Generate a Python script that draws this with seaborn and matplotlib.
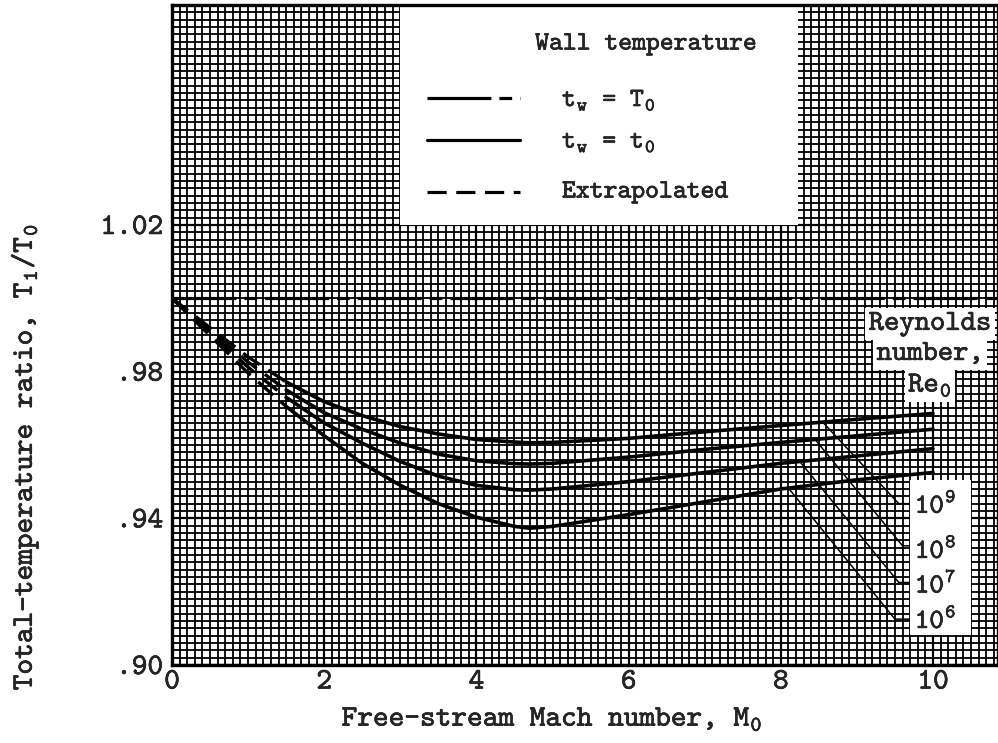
import matplotlib
matplotlib.use("Agg")
import numpy as np
import pandas as pd
import matplotlib.pyplot as plt
import matplotlib.patheffects as pe
import seaborn as sns
from matplotlib.lines import Line2D
from matplotlib.patches import Rectangle
from matplotlib.text import Text
from matplotlib.ticker import MultipleLocator, FixedLocator, FixedFormatter

# ---------------- data ----------------
mach = [0.0, 0.5, 1.0, 1.5, 2.0, 2.5, 3.0, 3.5, 4.0, 4.5, 4.7, 5.0, 6.0, 7.0, 8.0, 9.0, 10.0]
ratio_re1e9 = [1.000, 0.9920, 0.9840, 0.9772, 0.9718, 0.9680, 0.9650, 0.9630, 0.9615, 0.9608, 0.9606,
               0.9607, 0.9618, 0.9636, 0.9653, 0.9670, 0.9686]
ratio_re1e8 = [1.000, 0.9913, 0.9826, 0.9750, 0.9688, 0.9643, 0.9605, 0.9575, 0.9557, 0.9549, 0.9548,
               0.9550, 0.9567, 0.9588, 0.9607, 0.9625, 0.9643]
ratio_re1e7 = [1.000, 0.9906, 0.9812, 0.9730, 0.9660, 0.9605, 0.9555, 0.9515, 0.9490, 0.9478, 0.9477,
               0.9480, 0.9500, 0.9525, 0.9550, 0.9570, 0.9590]
ratio_re1e6 = [1.000, 0.9898, 0.9796, 0.9705, 0.9625, 0.9550, 0.9490, 0.9440, 0.9403, 0.9378, 0.9373,
               0.9378, 0.9410, 0.9445, 0.9480, 0.9505, 0.9525]
reynolds_labels = ["10$^\\mathregular{9}$", "10$^\\mathregular{8}$",
                   "10$^\\mathregular{7}$", "10$^\\mathregular{6}$"]
wall_mach = [0.0, 10.86]          # t_w = T_0 : ratio stays 1
wall_ratio = [1.0, 1.0]
extrapolated_to = 1.5             # curves are extrapolated below this Mach number

x_ticks = [0, 2, 4, 6, 8, 10]
x_tick_labels = ["0", "2", "4", "6", "8", "10"]
y_ticks = [0.90, 0.94, 0.98, 1.02]
y_tick_labels = [".90", ".94", ".98", "1.02"]

# ---------------- tidy frames ----------------
series = {"1e9": ratio_re1e9, "1e8": ratio_re1e8, "1e7": ratio_re1e7, "1e6": ratio_re1e6}
df = pd.concat([pd.DataFrame({"mach": mach, "ratio": v, "re": k}) for k, v in series.items()],
               ignore_index=True)
df_meas = df[df["mach"] >= extrapolated_to]
df_extr = df[df["mach"] <= extrapolated_to]
df_wall = pd.DataFrame({"mach": wall_mach, "ratio": wall_ratio})

# ---------------- style ----------------
sns.set_theme(style="white")
plt.rcParams["font.family"] = ["cmtt10", "DejaVu Sans Mono"]
plt.rcParams["axes.unicode_minus"] = False
plt.rcParams["mathtext.fontset"] = "cm"

W, H = 998, 743
fig = plt.figure(figsize=(W / 100, H / 100), dpi=100, facecolor="white")
ax = fig.add_axes([172 / W, 78 / H, 826 / W, 660 / H])
ax.set_facecolor("white")

ax.set_xlim(0, 826 / 76.1)
ax.set_ylim(0.90, 0.90 + 660 / 3667.0)

# grid
ax.set_axisbelow(True)
ax.xaxis.set_major_locator(FixedLocator(x_ticks))
ax.xaxis.set_major_formatter(FixedFormatter(x_tick_labels))
ax.yaxis.set_major_locator(FixedLocator(y_ticks))
ax.yaxis.set_major_formatter(FixedFormatter(y_tick_labels))
ax.xaxis.set_minor_locator(MultipleLocator(0.1))
ax.yaxis.set_minor_locator(MultipleLocator(0.002))
ax.grid(which="major", color="black", lw=1.6)
ax.grid(which="minor", color="black", lw=1.3)
ax.tick_params(which="both", length=0)
ax.tick_params(axis="x", pad=4, labelsize=21.5)
ax.tick_params(axis="y", pad=6.5, labelsize=21.5)
for s in ax.spines.values():
    s.set_color("black")
    s.set_linewidth(2.4)

# white legend region
ax.add_patch(Rectangle((0.276, 0.667), 0.482, 0.34, transform=ax.transAxes,
                       facecolor="white", edgecolor="none", zorder=2, clip_on=False))

# curves
dash_ext = (0, (6, 3))
wall_dash = (0, (20, 2.5, 4, 2.5))
sns.lineplot(data=df_wall, x="mach", y="ratio", color="black", lw=2.3, ax=ax,
             linestyle=wall_dash, zorder=3, legend=False)
sns.lineplot(data=df_meas, x="mach", y="ratio", units="re", estimator=None,
             color="black", lw=2.6, ax=ax, zorder=3, legend=False)
sns.lineplot(data=df_extr, x="mach", y="ratio", units="re", estimator=None,
             color="black", lw=2.4, ax=ax, linestyle=dash_ext, zorder=3, legend=False)

# leader lines from curves to Reynolds-number labels
leader_start = [8.55, 8.45, 8.25, 8.10]
leader_end = [(9.55, 0.9440), (9.60, 0.9325), (9.55, 0.9225), (9.50, 0.9125)]
label_base = [0.9415, 0.9292, 0.9197, 0.9101]
for key, m0, (mx, my) in zip(series, leader_start, leader_end):
    y0 = np.interp(m0, mach, series[key])
    ld = pd.DataFrame({"mach": [m0, mx, 9.72], "ratio": [y0, my, my]})
    sns.lineplot(data=ld, x="mach", y="ratio", sort=False, estimator=None,
                 color="black", lw=1.1, ax=ax, zorder=3, legend=False)

ax.add_patch(Rectangle((9.70, 0.9082), 0.80, 0.0422, facecolor="white",
                       edgecolor="none", zorder=4))
for lab, yb in zip(reynolds_labels, label_base):
    ax.text(9.76, yb, lab, fontsize=20, ha="left", va="baseline", zorder=5)

# Reynolds number heading
for txt, yb in zip(["Reynolds", "number,", "Re$_\\mathregular{0}$"], [0.9914, 0.9832, 0.9745]):
    ax.text(9.96, yb, txt, fontsize=21, ha="center", va="baseline", zorder=5,
            bbox=dict(facecolor="white", edgecolor="none", pad=2.5))

# legend (drawn in axes fraction)
def fx(px):
    return (px - 172) / 826.0

def fy(py):
    return (665 - py) / 660.0

ax.text(fx(646), fy(44), "Wall temperature", transform=ax.transAxes, fontsize=19,
        ha="center", va="center", zorder=5)
legend_items = [
    (wall_dash, "t$_\\mathregular{w}$ = T$_\\mathregular{0}$", 98, 100),
    ("-", "t$_\\mathregular{w}$ = t$_\\mathregular{0}$", 140, 142),
    (dash_ext, "Extrapolated", 192, 192),
]
for ls, txt, ly, ty in legend_items:
    ax.add_line(Line2D([fx(427), fx(520)], [fy(ly), fy(ly)], transform=ax.transAxes,
                       color="black", lw=2.3, linestyle=ls, zorder=5))
    ax.text(fx(562), fy(ty), txt, transform=ax.transAxes, fontsize=19,
            ha="left", va="center", zorder=5)

# axis labels
ax.set_xlabel("Free-stream Mach number, M$_\\mathregular{0}$", fontsize=21.5)
ax.xaxis.set_label_coords(0.46, -0.062)
ax.set_ylabel("Total-temperature ratio, T$_\\mathregular{1}$/T$_\\mathregular{0}$", fontsize=21.5)
ax.yaxis.set_label_coords(-0.178, 0.315)
ax.yaxis.label.set_verticalalignment("center")

# slightly heavier, typewriter-like text
for t in fig.findobj(Text):
    t.set_path_effects([pe.withStroke(linewidth=0.4, foreground="black")])

fig.savefig("out.png", dpi=100, facecolor="white")
